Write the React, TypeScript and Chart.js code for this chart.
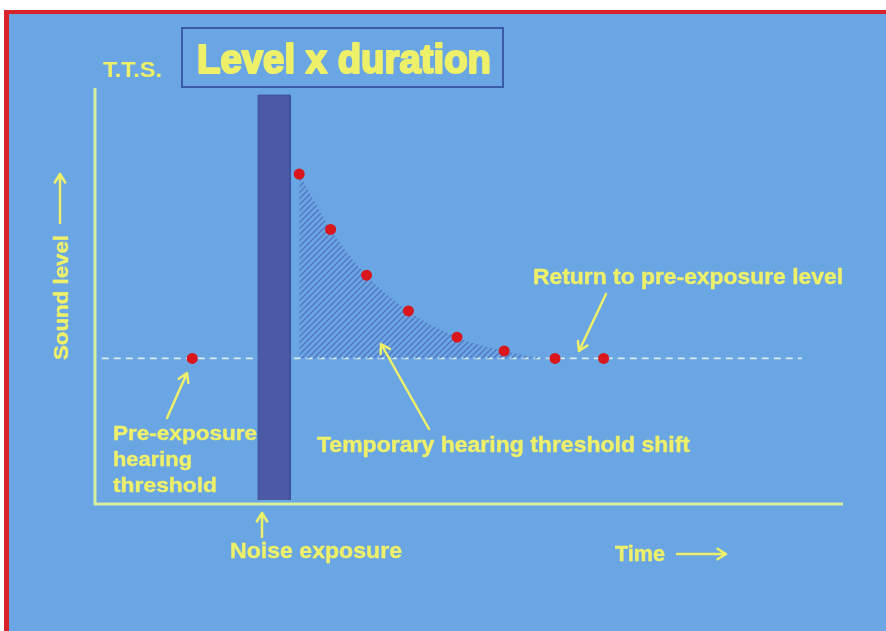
import { useEffect, useRef } from "react";
import { Chart, registerables } from "chart.js";

Chart.register(...registerables);

// ---- data (arbitrary units: time 0..100, sound level 0..100) ----
const decayTimes = [27.3, 31.5, 36.3, 41.9, 48.4, 54.7, 61.5, 68.0];
const decayLevels = [79.3, 66.0, 55.0, 46.4, 40.1, 36.8, 35.0, 35.0];
const preExposureTimes = [13.0];
const preExposureLevels = [35.0];
const baselineLevel = 35.0;
const baselineTimes = [0.9, 94.5];
const noiseTimes = [21.8, 26.1];
const noiseLevels = [0.96, 98.3];

const BG = "#6aa6e3";
const YELLOW = "#eef06a";
const AXIS = "#d6eea0";

function makeHatch(): CanvasPattern | string {
  const c = document.createElement("canvas");
  c.width = 6;
  c.height = 6;
  const g = c.getContext("2d");
  if (!g) return "rgba(70,100,180,0.4)";
  g.strokeStyle = "#5478c4";
  g.lineWidth = 1.5;
  g.beginPath();
  g.moveTo(0, 6); g.lineTo(6, 0);
  g.moveTo(-3, 3); g.lineTo(3, -3);
  g.moveTo(3, 9); g.lineTo(9, 3);
  g.stroke();
  const p = g.createPattern(c, "repeat");
  return p || "rgba(70,100,180,0.4)";
}

function fitText(ctx: CanvasRenderingContext2D, text: string, x: number, y: number, size: number, width: number, heavy = 0) {
  ctx.font = `bold ${size}px "Liberation Sans", Arial, sans-serif`;
  const w = ctx.measureText(text).width;
  ctx.save();
  ctx.translate(x, y);
  ctx.scale(width / w, 1);
  ctx.fillText(text, 0, 0);
  if (heavy > 0) {
    ctx.strokeStyle = ctx.fillStyle as string;
    ctx.lineWidth = heavy;
    ctx.lineJoin = "round";
    ctx.strokeText(text, 0, 0);
  }
  ctx.restore();
}

function arrow(ctx: CanvasRenderingContext2D, x1: number, y1: number, x2: number, y2: number) {
  const a = Math.atan2(y2 - y1, x2 - x1);
  const L = 10;
  const s = 0.55;
  ctx.beginPath();
  ctx.moveTo(x1, y1);
  ctx.lineTo(x2, y2);
  ctx.moveTo(x2 - L * Math.cos(a - s), y2 - L * Math.sin(a - s));
  ctx.lineTo(x2, y2);
  ctx.lineTo(x2 - L * Math.cos(a + s), y2 - L * Math.sin(a + s));
  ctx.stroke();
}

const backgroundPlugin = {
  id: "slideBackground",
  beforeDraw(chart: any) {
    const ctx = chart.ctx as CanvasRenderingContext2D;
    ctx.save();
    ctx.fillStyle = "#ffffff";
    ctx.fillRect(0, 0, chart.width, chart.height);
    ctx.fillStyle = "#d8232a";
    ctx.fillRect(4, 10, chart.width - 4, chart.height - 10);
    ctx.fillStyle = BG;
    ctx.fillRect(9, 14, chart.width - 9, chart.height - 14);
    ctx.restore();
  },
};

const overlayPlugin = {
  id: "slideOverlay",
  afterDraw(chart: any) {
    const ctx = chart.ctx as CanvasRenderingContext2D;
    const a = chart.chartArea;
    ctx.save();
    // axes
    ctx.strokeStyle = AXIS;
    ctx.lineWidth = 3;
    ctx.beginPath();
    ctx.moveTo(a.left, a.top);
    ctx.lineTo(a.left, a.bottom + 1);
    ctx.moveTo(a.left - 1, a.bottom);
    ctx.lineTo(a.right, a.bottom);
    ctx.stroke();

    // title box
    ctx.strokeStyle = "#3a5ba8";
    ctx.lineWidth = 2;
    ctx.strokeRect(182, 28, 321, 59);

    // texts
    ctx.fillStyle = YELLOW;
    ctx.textAlign = "left";
    ctx.textBaseline = "alphabetic";
    fitText(ctx, "T.T.S.", 103, 77, 22, 59);
    fitText(ctx, "Level x duration", 197, 73, 40, 294, 2.2);
    fitText(ctx, "Return to pre-exposure level", 533, 284, 22, 310, 0.4);
    fitText(ctx, "Pre-exposure", 113, 440, 21, 144, 0.4);
    fitText(ctx, "hearing", 113, 466, 21, 79, 0.4);
    fitText(ctx, "threshold", 113, 492, 21, 104, 0.4);
    fitText(ctx, "Temporary hearing threshold shift", 317, 452, 22, 373, 0.4);
    fitText(ctx, "Noise exposure", 230, 558, 22, 172, 0.4);
    fitText(ctx, "Time", 615, 561, 22, 50, 0.4);
    ctx.save();
    ctx.translate(68, 360);
    ctx.rotate(-Math.PI / 2);
    fitText(ctx, "Sound level", 0, 0, 21, 125, 0.4);
    ctx.restore();

    // arrows
    ctx.strokeStyle = YELLOW;
    ctx.lineWidth = 2.5;
    ctx.lineCap = "round";
    ctx.lineJoin = "round";
    arrow(ctx, 167, 418, 187, 373);
    arrow(ctx, 429, 429, 381, 344);
    arrow(ctx, 606, 294, 579, 351);
    arrow(ctx, 262, 537, 262, 513);
    arrow(ctx, 60, 223, 60, 174);
    arrow(ctx, 677, 554, 726, 554);
    ctx.restore();
  },
};

export default function App() {
  const ref = useRef<HTMLCanvasElement>(null);
  useEffect(() => {
    const canvas = ref.current;
    if (!canvas) return;
    const hatch = makeHatch();
    const chart = new Chart(canvas, {
      type: "line",
      data: {
        datasets: [
          {
            label: "Pre-exposure hearing threshold",
            data: preExposureTimes.map((t, i) => ({ x: t, y: preExposureLevels[i] })),
            showLine: false,
            pointRadius: 5.5,
            pointBackgroundColor: "#d9161c",
            pointBorderWidth: 0,
            order: 1,
          },
          {
            label: "Noise exposure",
            data: [
              { x: noiseTimes[0], y: noiseLevels[0] },
              { x: noiseTimes[0], y: noiseLevels[1] },
              { x: noiseTimes[1], y: noiseLevels[1] },
              { x: noiseTimes[1], y: noiseLevels[0] },
            ],
            borderColor: "#40519c",
            borderWidth: 1,
            backgroundColor: "#4a5aa6",
            fill: { value: noiseLevels[0] },
            pointRadius: 0,
            tension: 0,
            order: 2,
          },
          {
            label: "Temporary hearing threshold shift",
            data: decayTimes.map((t, i) => ({ x: t, y: decayLevels[i] })),
            borderColor: "rgba(0,0,0,0)",
            borderWidth: 0,
            backgroundColor: hatch as any,
            fill: { value: baselineLevel },
            cubicInterpolationMode: "monotone",
            pointRadius: 5.5,
            pointBackgroundColor: "#d9161c",
            pointBorderWidth: 0,
            order: 3,
          },
          {
            label: "Baseline",
            data: baselineTimes.map((t) => ({ x: t, y: baselineLevel })),
            borderColor: "#d8ecf0",
            borderWidth: 1.6,
            borderDash: [7, 5],
            pointRadius: 0,
            fill: false,
            order: 4,
          },
        ],
      },
      options: {
        responsive: false,
        animation: false,
        events: [],
        layout: { padding: { left: 95, top: 88, right: 43, bottom: 127 } },
        scales: {
          x: { type: "linear", min: 0, max: 100, display: false },
          y: { type: "linear", min: 0, max: 100, display: false },
        },
        plugins: {
          legend: { display: false },
          tooltip: { enabled: false },
        },
      },
      plugins: [backgroundPlugin, overlayPlugin],
    } as any);
    return () => chart.destroy();
  }, []);
  return (
    <div style={{ position: "fixed", left: 0, top: 0, width: 886, height: 631, background: "#ffffff" }}>
      <canvas ref={ref} width={886} height={631} style={{ display: "block", width: 886, height: 631 }} />
    </div>
  );
}
